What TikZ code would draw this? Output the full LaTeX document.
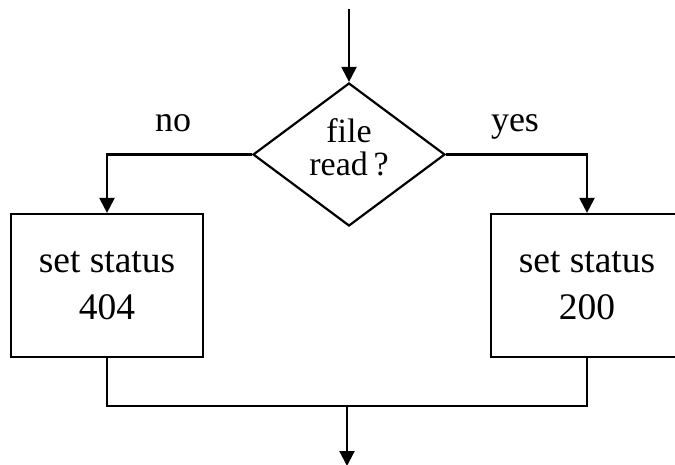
\documentclass[tikz,border=0pt]{standalone}
\usepackage{fontspec}
\setmainfont{Liberation Serif}
\usetikzlibrary{shapes.geometric,arrows.meta}
\tikzset{
  flow/.style={line width=2.2pt},
  flowarrow/.style={flow,-{Triangle[length=15pt,width=15pt]}},
  decision/.style={draw,line width=2.2pt,shape=diamond,aspect=1.343,inner sep=0pt,
    minimum width=192pt,minimum height=143pt,align=center,text depth=15pt,
    font=\fontsize{34}{33}\selectfont},
  process/.style={draw,line width=2.2pt,rectangle,inner sep=0pt,
    minimum width=192pt,minimum height=143pt,align=center,
    font=\fontsize{37.5}{47}\selectfont},
  branchlabel/.style={anchor=base,inner sep=0pt,font=\fontsize{36}{40}\selectfont}
}
\begin{document}
\begin{tikzpicture}[x=1pt,y=-1pt]
  \useasboundingbox (0,0) rectangle (675,464);
  \clip (0,0) rectangle (675,464);

  % decision and the two branches
  \node[decision] (dec) at (349,154.5) {file\\read\,?};
  \node[process] (notfound) at (107,285.5) {set status\\404};
  \node[process] (ok) at (587,285.5) {set status\\200};

  \node[branchlabel] (nolbl) at (173,131) {no};
  \node[branchlabel] (yeslbl) at (515,131) {yes};

  \coordinate (entry) at (349,9);
  \coordinate (merge) at (347,406);
  \coordinate (exit) at (347,466);

  % connectors
  \draw[flowarrow] (entry) -- (dec.north);
  \draw[flowarrow] (dec.west) -| (notfound.north);
  \draw[flowarrow] (dec.east) -| (ok.north);
  \draw[flow] (notfound.south) |- (merge);
  \draw[flow] (ok.south) |- (merge);
  \draw[flowarrow] (merge) -- (exit);
\end{tikzpicture}
\end{document}
